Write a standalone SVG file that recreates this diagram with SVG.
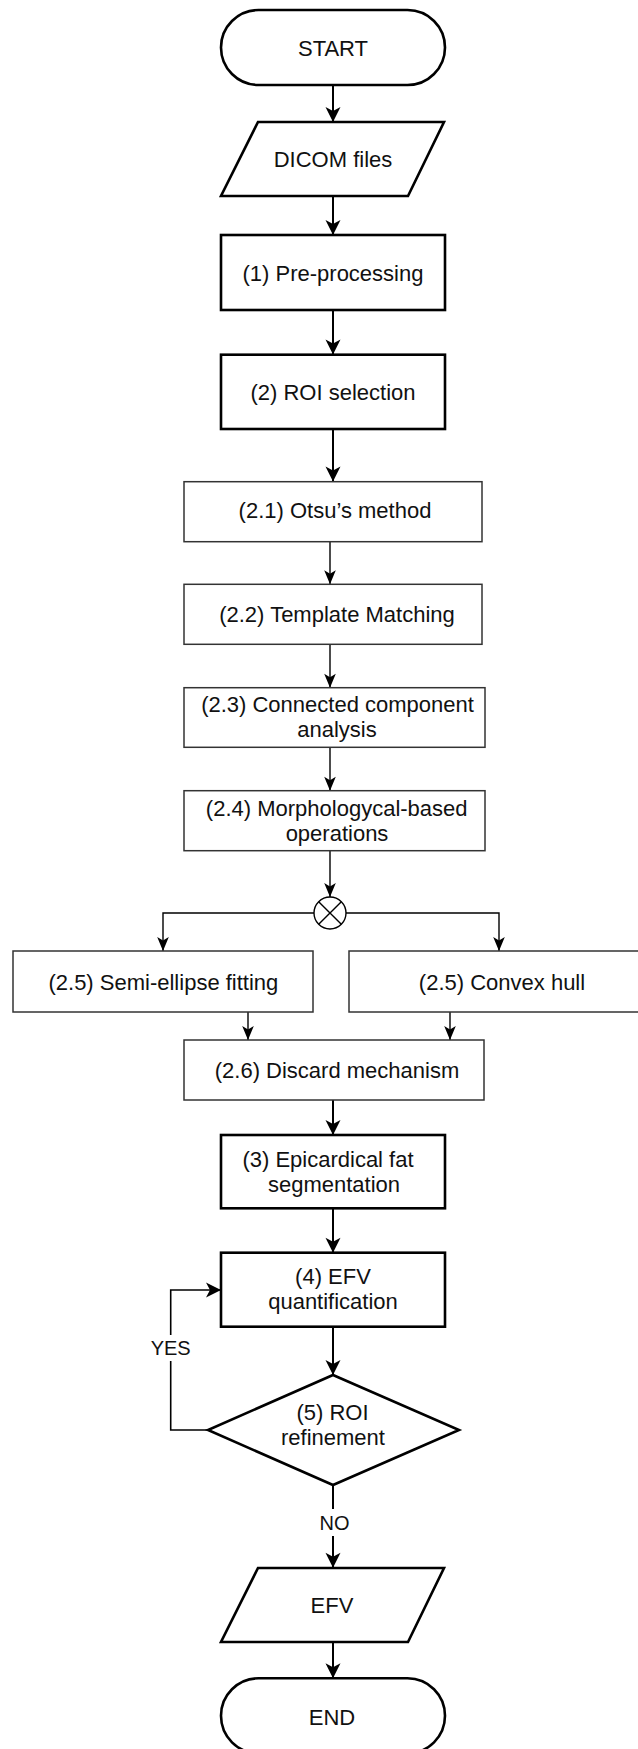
<svg xmlns="http://www.w3.org/2000/svg" width="638" height="1749" viewBox="0 0 638 1749">
<defs>
<style>
.thick{fill:#fff;stroke:#000;stroke-width:2.6}
.thin{fill:#fff;stroke:#333;stroke-width:1.5}
.t{font-family:"Liberation Sans",Arial,sans-serif;font-size:22px;fill:#111;text-anchor:middle}
.lbl{font-family:"Liberation Sans",Arial,sans-serif;font-size:20px;fill:#111;text-anchor:middle}
.c2{fill:none;stroke:#000;stroke-width:2}
.c1{fill:none;stroke:#000;stroke-width:1.4}
</style>
<marker id="ah" markerUnits="userSpaceOnUse" markerWidth="18" markerHeight="18" viewBox="-16 -9 18 18" refX="0" refY="0" orient="auto">
<path d="M0,0 L-15,-7.5 L-11,0 L-15,7.5 Z" fill="#000"/>
</marker>
<marker id="as" markerUnits="userSpaceOnUse" markerWidth="18" markerHeight="18" viewBox="-16 -9 18 18" refX="0" refY="0" orient="auto">
<path d="M0,0 L-14,-5.8 L-10.5,0 L-14,5.8 Z" fill="#000"/>
</marker>
</defs>

<g id="connectors">
<path class="c2" d="M333,85 V122" marker-end="url(#ah)"/>
<path class="c2" d="M333,196 V235" marker-end="url(#ah)"/>
<path class="c2" d="M333,310 V354.5" marker-end="url(#ah)"/>
<path class="c2" d="M333,429 V481.5" marker-end="url(#ah)"/>
<path class="c1" d="M330,541.7 V584.3" marker-end="url(#as)"/>
<path class="c1" d="M330,644.3 V687.7" marker-end="url(#as)"/>
<path class="c1" d="M330,747.3 V790.7" marker-end="url(#as)"/>
<path class="c1" d="M330,850.7 V897" marker-end="url(#as)"/>
<path class="c1" d="M314,913 H163 V951" marker-end="url(#as)"/>
<path class="c1" d="M346,913 H499 V951" marker-end="url(#as)"/>
<path class="c1" d="M248,1012 V1040" marker-end="url(#as)"/>
<path class="c1" d="M450,1012 V1040" marker-end="url(#as)"/>
<path class="c2" d="M333,1100 V1135" marker-end="url(#ah)"/>
<path class="c2" d="M333,1208 V1252.7" marker-end="url(#ah)"/>
<path class="c2" d="M333,1326.7 V1375" marker-end="url(#ah)"/>
<path fill="none" stroke="#000" stroke-width="1.6" d="M208,1430 H170.7 V1290 H221" marker-end="url(#ah)"/>
<path class="c2" d="M333,1485 V1567.7" marker-end="url(#ah)"/>
<path class="c2" d="M333,1641.7 V1678.3" marker-end="url(#ah)"/>
<rect x="150" y="1335" width="41" height="26" fill="#fff"/>
<text class="lbl" x="170.7" y="1355">YES</text>
<rect x="319" y="1509" width="30" height="27" fill="#fff"/>
<text class="lbl" x="334.5" y="1530">NO</text>
</g>

<g id="start">
<rect class="thick" x="221" y="10" width="224" height="75" rx="37.5"/>
<text class="t" x="333" y="56">START</text>
</g>
<g id="dicom">
<polygon class="thick" points="258,122 444,122 408,196 221,196"/>
<text class="t" x="333" y="167">DICOM files</text>
</g>
<g id="preprocessing">
<rect class="thick" x="221" y="235" width="224" height="75"/>
<text class="t" x="333" y="281">(1) Pre-processing</text>
</g>
<g id="roi">
<rect class="thick" x="221" y="354.7" width="224" height="74.3"/>
<text class="t" x="333" y="400">(2) ROI selection</text>
</g>
<g id="otsu">
<rect class="thin" x="184" y="481.7" width="298" height="60"/>
<text class="t" x="335" y="518">(2.1) Otsu’s method</text>
</g>
<g id="template">
<rect class="thin" x="184" y="584.3" width="298" height="60"/>
<text class="t" x="337" y="621.5">(2.2) Template Matching</text>
</g>
<g id="cca">
<rect class="thin" x="184" y="687.7" width="301" height="59.6"/>
<text class="t" x="337.5" y="712">(2.3) Connected component</text>
<text class="t" x="337" y="737">analysis</text>
</g>
<g id="morph">
<rect class="thin" x="184" y="790.7" width="301" height="60"/>
<text class="t" x="336.7" y="816">(2.4) Morphologycal-based</text>
<text class="t" x="337" y="841">operations</text>
</g>
<g id="merge">
<circle cx="330" cy="913" r="16" fill="#fff" stroke="#000" stroke-width="1.4"/>
<path d="M318.7,901.7 L341.3,924.3 M341.3,901.7 L318.7,924.3" stroke="#000" stroke-width="1.4" fill="none"/>
</g>
<g id="semiellipse">
<rect class="thin" x="13" y="951" width="300" height="61"/>
<text class="t" x="163.4" y="989.5">(2.5) Semi-ellipse fitting</text>
</g>
<g id="convexhull">
<rect class="thin" x="349" y="951" width="302" height="61"/>
<text class="t" x="502" y="989.5">(2.5) Convex hull</text>
</g>
<g id="discard">
<rect class="thin" x="184" y="1040" width="300" height="60"/>
<text class="t" x="337" y="1078">(2.6) Discard mechanism</text>
</g>
<g id="epicardical">
<rect class="thick" x="221" y="1135" width="224" height="73.3"/>
<text class="t" x="328" y="1167">(3) Epicardical fat</text>
<text class="t" x="334" y="1192">segmentation</text>
</g>
<g id="efvq">
<rect class="thick" x="221" y="1252.7" width="224" height="74"/>
<text class="t" x="333" y="1283.5">(4) EFV</text>
<text class="t" x="333" y="1308.5">quantification</text>
</g>
<g id="refinement">
<polygon class="thick" points="333,1375 459,1430 333,1485 208,1430"/>
<text class="t" x="332.5" y="1420">(5) ROI</text>
<text class="t" x="333" y="1445">refinement</text>
</g>
<g id="efv">
<polygon class="thick" points="258,1568 444,1568 408,1642 221,1642"/>
<text class="t" x="332" y="1613">EFV</text>
</g>
<g id="end">
<rect class="thick" x="221" y="1678.3" width="224" height="75" rx="37.5"/>
<text class="t" x="332" y="1725">END</text>
</g>
</svg>
